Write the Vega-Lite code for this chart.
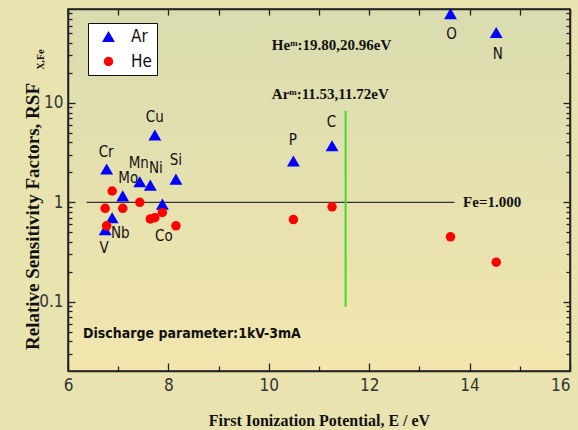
{
  "$schema": "https://vega.github.io/schema/vega-lite/v6.json",
  "width": 502,
  "height": 362,
  "autosize": {"type": "none"},
  "padding": {"left": 68, "top": 9, "right": 8, "bottom": 59},
  "background": "#e9e3af",
  "config": {
    "view": {
      "stroke": "#222",
      "strokeWidth": 1.5,
      "fill": {"gradient": "linear", "x1": 0, "y1": 0, "x2": 0, "y2": 1,
        "stops": [{"offset": 0, "color": "#d9dcaf"}, {"offset": 1, "color": "#f2e6ae"}]}
    },
    "axis": {
      "grid": false,
      "domainColor": "#222",
      "domainWidth": 1.5,
      "tickColor": "#222",
      "tickWidth": 1.3,
      "labelColor": "#333",
      "labelFont": "'Liberation Sans Narrow', 'DejaVu Sans Condensed', 'Liberation Sans', sans-serif",
      "labelFontSize": 17,
      "labelFlush": false,
      "titleColor": "#111",
      "titleFont": "Liberation Serif",
      "titleFontWeight": "bold"
    },
    "legend": {
      "orient": "none",
      "legendX": 20,
      "legendY": 14,
      "fillColor": "white",
      "strokeColor": "#111",
      "padding": 5,
      "symbolOffset": 7,
      "labelOffset": 14,
      "labelFont": "'Liberation Sans Narrow', 'DejaVu Sans Condensed', 'Liberation Sans', sans-serif",
      "labelFontSize": 17,
      "labelColor": "#111",
      "rowPadding": 7,
      "title": null
    }
  },
  "datasets": {
    "pts": [
      {"el": "V", "series": "Ar", "ip": 6.74, "rsf": 0.53},
      {"el": "Cr", "series": "Ar", "ip": 6.77, "rsf": 2.16},
      {"el": "Nb", "series": "Ar", "ip": 6.88, "rsf": 0.70},
      {"el": "Mo", "series": "Ar", "ip": 7.09, "rsf": 1.16},
      {"el": "Mn", "series": "Ar", "ip": 7.43, "rsf": 1.61},
      {"el": "Ni", "series": "Ar", "ip": 7.64, "rsf": 1.49},
      {"el": "Cu", "series": "Ar", "ip": 7.73, "rsf": 4.75},
      {"el": "Co", "series": "Ar", "ip": 7.88, "rsf": 0.96},
      {"el": "Si", "series": "Ar", "ip": 8.15, "rsf": 1.71},
      {"el": "P", "series": "Ar", "ip": 10.49, "rsf": 2.6},
      {"el": "C", "series": "Ar", "ip": 11.26, "rsf": 3.71},
      {"el": "O", "series": "Ar", "ip": 13.62, "rsf": 79},
      {"el": "N", "series": "Ar", "ip": 14.53, "rsf": 51},
      {"el": "V", "series": "He", "ip": 6.74, "rsf": 0.87},
      {"el": "Cr", "series": "He", "ip": 6.77, "rsf": 0.58},
      {"el": "Nb", "series": "He", "ip": 6.88, "rsf": 1.30},
      {"el": "Mo", "series": "He", "ip": 7.09, "rsf": 0.87},
      {"el": "Mn", "series": "He", "ip": 7.43, "rsf": 1.0},
      {"el": "Ni", "series": "He", "ip": 7.64, "rsf": 0.68},
      {"el": "Cu", "series": "He", "ip": 7.73, "rsf": 0.70},
      {"el": "Co", "series": "He", "ip": 7.88, "rsf": 0.79},
      {"el": "Si", "series": "He", "ip": 8.15, "rsf": 0.58},
      {"el": "P", "series": "He", "ip": 10.49, "rsf": 0.67},
      {"el": "C", "series": "He", "ip": 11.26, "rsf": 0.90},
      {"el": "O", "series": "He", "ip": 13.62, "rsf": 0.45},
      {"el": "N", "series": "He", "ip": 14.53, "rsf": 0.25}
    ],
    "labels": [
      {"el": "Cr", "lx": 6.76, "ly": 3.2},
      {"el": "Cu", "lx": 7.73, "ly": 7.2},
      {"el": "Mn", "lx": 7.41, "ly": 2.48},
      {"el": "Ni", "lx": 7.75, "ly": 2.2},
      {"el": "Mo", "lx": 7.2, "ly": 1.74},
      {"el": "Si", "lx": 8.15, "ly": 2.67},
      {"el": "P", "lx": 10.48, "ly": 4.24},
      {"el": "C", "lx": 11.25, "ly": 6.47},
      {"el": "O", "lx": 13.64, "ly": 49.3},
      {"el": "N", "lx": 14.56, "ly": 30.8},
      {"el": "V", "lx": 6.72, "ly": 0.344},
      {"el": "Nb", "lx": 7.04, "ly": 0.488},
      {"el": "Co", "lx": 7.91, "ly": 0.458}
    ],
    "notes": [
      {"x": 10.06, "y": 38.3, "t": "Heᵐ:19.80,20.96eV"},
      {"x": 10.06, "y": 12.3, "t": "Arᵐ:11.53,11.72eV"},
      {"x": 13.87, "y": 1.0, "t": "Fe=1.000"}
    ],
    "discharge": [{"x": 6.30, "y": 0.0473, "t": "Discharge parameter:1kV-3mA"}],
    "sub": [{"x": 5.52, "y": 27.3, "t": "X,Fe"}],
    "hline": [{"x": 6.37, "x2": 13.70, "y": 1}],
    "vline": [{"x": 11.53, "y": 0.089, "y2": 8.3}]
  },
  "resolve": {"axis": {"x": "independent", "y": "independent"}},
  "layer": [
    {
      "data": {"name": "hline"},
      "mark": {"type": "rule", "color": "#333", "strokeWidth": 1.2},
      "encoding": {
        "x": {"field": "x", "type": "quantitative",
          "scale": {"domain": [6, 16], "nice": false},
          "axis": {"orient": "top", "values": [6,7,8,9,10,11,12,13,14,15,16], "labels": false, "tickSize": -6, "title": null}},
        "x2": {"field": "x2"},
        "y": {"field": "y", "type": "quantitative",
          "scale": {"type": "log", "domain": [0.0201, 88], "nice": false},
          "axis": {"orient": "right", "labels": false, "title": null,
            "values": [0.03,0.04,0.05,0.06,0.07,0.08,0.09,0.1,0.2,0.3,0.4,0.5,0.6,0.7,0.8,0.9,1,2,3,4,5,6,7,8,9,10,20,30,40,50,60,70,80],
            "tickSize": {"condition": {"test": "datum.value == 0.1 || datum.value == 1 || datum.value == 10", "value": -7}, "value": -4}}}
      }
    },
    {
      "data": {"name": "vline"},
      "mark": {"type": "rule", "color": "#3ddc2a", "strokeWidth": 2},
      "encoding": {
        "x": {"field": "x", "type": "quantitative", "scale": {"domain": [6, 16], "nice": false}, "axis": null},
        "y": {"field": "y", "type": "quantitative", "scale": {"type": "log", "domain": [0.0201, 88], "nice": false}, "axis": null},
        "y2": {"field": "y2"}
      }
    },
    {
      "data": {"name": "pts"},
      "mark": {"type": "point", "filled": true, "opacity": 1, "strokeWidth": 0},
      "encoding": {
        "x": {"field": "ip", "type": "quantitative",
          "scale": {"domain": [6, 16], "nice": false},
          "axis": {"orient": "bottom", "values": [6,7,8,9,10,11,12,13,14,15,16],
            "labelExpr": "datum.value % 2 == 0 ? datum.label : ''",
            "labelAlign": {"condition": {"test": "datum.value == 16", "value": "right"}, "value": "center"},
            "tickSize": {"condition": {"test": "datum.value % 2 == 0", "value": -8}, "value": -5},
            "labelPadding": 14,
            "title": "First Ionization Potential, E / eV",
            "titleFontSize": 16,
            "titlePadding": 19}},
        "y": {"field": "rsf", "type": "quantitative",
          "scale": {"type": "log", "domain": [0.0201, 88], "nice": false},
          "axis": {"orient": "left",
            "values": [0.03,0.04,0.05,0.06,0.07,0.08,0.09,0.1,0.2,0.3,0.4,0.5,0.6,0.7,0.8,0.9,1,2,3,4,5,6,7,8,9,10,20,30,40,50,60,70,80],
            "labelExpr": "datum.value == 0.1 ? '0.1' : datum.value == 1 ? '1' : datum.value == 10 ? '10' : ''",
            "tickSize": {"condition": {"test": "datum.value == 0.1 || datum.value == 1 || datum.value == 10", "value": -7}, "value": -4},
            "labelPadding": 12,
            "title": "Relative Sensitivity Factors, RSF",
            "titleFontSize": 19,
            "titleAngle": 270,
            "titleX": -30,
            "titleY": 207,
            "titleAlign": "center",
            "titleBaseline": "alphabetic"}},
        "color": {"field": "series", "type": "nominal",
          "scale": {"domain": ["Ar", "He"], "range": ["#0000ff", "#ff0000"]}},
        "shape": {"field": "series", "type": "nominal",
          "scale": {"domain": ["Ar", "He"], "range": ["triangle-up", "circle"]}},
        "size": {"field": "series", "type": "nominal",
          "scale": {"domain": ["Ar", "He"], "range": [165, 90]}}
      }
    },
    {
      "data": {"name": "labels"},
      "mark": {"type": "text", "font": "'Liberation Sans Narrow', 'DejaVu Sans Condensed', 'Liberation Sans', sans-serif", "fontSize": 15, "color": "#111", "baseline": "middle", "align": "center"},
      "encoding": {
        "x": {"field": "lx", "type": "quantitative", "scale": {"domain": [6, 16], "nice": false}, "axis": null},
        "y": {"field": "ly", "type": "quantitative", "scale": {"type": "log", "domain": [0.0201, 88], "nice": false}, "axis": null},
        "text": {"field": "el"}
      }
    },
    {
      "data": {"name": "notes"},
      "mark": {"type": "text", "font": "Liberation Serif", "fontWeight": "bold", "fontSize": 15, "color": "#111", "baseline": "middle", "align": "left"},
      "encoding": {
        "x": {"field": "x", "type": "quantitative", "scale": {"domain": [6, 16], "nice": false}, "axis": null},
        "y": {"field": "y", "type": "quantitative", "scale": {"type": "log", "domain": [0.0201, 88], "nice": false}, "axis": null},
        "text": {"field": "t"}
      }
    },
    {
      "data": {"name": "discharge"},
      "mark": {"type": "text", "font": "'Liberation Sans Narrow', 'DejaVu Sans Condensed', 'Liberation Sans', sans-serif", "fontWeight": "bold", "fontSize": 14, "color": "#111", "baseline": "middle", "align": "left"},
      "encoding": {
        "x": {"field": "x", "type": "quantitative", "scale": {"domain": [6, 16], "nice": false}, "axis": null},
        "y": {"field": "y", "type": "quantitative", "scale": {"type": "log", "domain": [0.0201, 88], "nice": false}, "axis": null},
        "text": {"field": "t"}
      }
    },
    {
      "data": {"name": "sub"},
      "mark": {"type": "text", "font": "Liberation Serif", "fontWeight": "bold", "fontSize": 10, "color": "#111", "baseline": "alphabetic", "align": "center", "angle": 270},
      "encoding": {
        "x": {"field": "x", "type": "quantitative", "scale": {"domain": [6, 16], "nice": false}, "axis": null},
        "y": {"field": "y", "type": "quantitative", "scale": {"type": "log", "domain": [0.0201, 88], "nice": false}, "axis": null},
        "text": {"field": "t"}
      }
    }
  ]
}
